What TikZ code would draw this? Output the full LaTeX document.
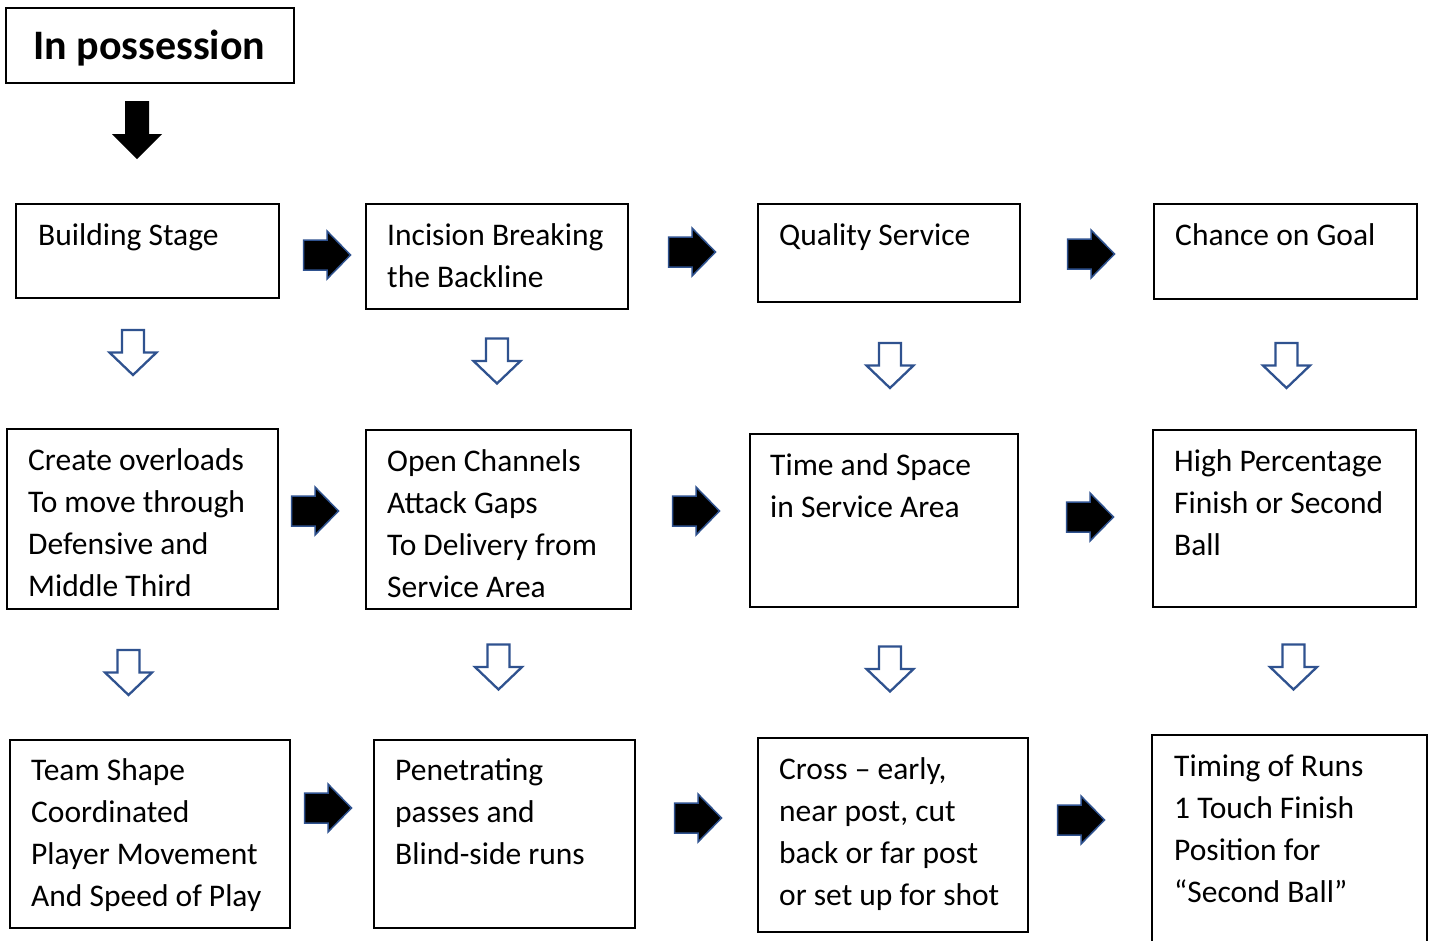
\documentclass[tikz,border=0pt]{standalone}
\usepackage{fontspec}
\setmainfont{Carlito}
\definecolor{arrowblue}{HTML}{2F528F}
\tikzset{
  box/.style={draw=black, line width=1.6pt, inner sep=0pt, fill=none},
  txt/.style={anchor=base west, align=left, inner sep=0pt, font=\fontsize{31.5}{42}\selectfont},
  rarrow/.pic={\fill[black, draw=arrowblue, line width=1.5pt, line join=miter]
     (-23.5,-15) -- (0,-15) -- (0,-24) -- (23.5,0) -- (0,24) -- (0,15) -- (-23.5,15) -- cycle;},
  darrow/.pic={\draw[fill=white, draw=arrowblue, line width=2.3pt, line join=miter]
     (-11,-22.5) -- (11,-22.5) -- (11,0) -- (23.5,0) -- (0,22.5) -- (-23.5,0) -- (-11,0) -- cycle;}
}
\begin{document}
\begin{tikzpicture}[x=1pt,y=-1pt]
\useasboundingbox (0,0) rectangle (1438,940);
\clip (0,0) rectangle (1438,940);
% title
\node[box, minimum width=288pt, minimum height=75pt] (title) at (150,45.5) {};
\node[anchor=base west, inner sep=0pt, font=\fontsize{42}{50}\selectfont\bfseries] (titletext) at (33,59) {In possession};
\fill[black] (125,101) -- (149,101) -- (149,134) -- (162,134) -- (137,159) -- (112,134) -- (125,134) -- cycle;
% boxes
\node[box, minimum width=263pt, minimum height=94pt] (b1) at (147.5,251) {};
\node[box, minimum width=262pt, minimum height=105pt] (b2) at (497,256.5) {};
\node[box, minimum width=262pt, minimum height=98pt] (b3) at (889,253) {};
\node[box, minimum width=263pt, minimum height=95pt] (b4) at (1285.5,251.5) {};
\node[box, minimum width=271pt, minimum height=180pt] (c1) at (142.5,519) {};
\node[box, minimum width=265pt, minimum height=179pt] (c2) at (498.5,519.5) {};
\node[box, minimum width=268pt, minimum height=173pt] (c3) at (884,520.5) {};
\node[box, minimum width=263pt, minimum height=177pt] (c4) at (1284.5,518.5) {};
\node[box, minimum width=280pt, minimum height=188pt] (d1) at (150,834) {};
\node[box, minimum width=261pt, minimum height=188pt] (d2) at (504.5,834) {};
\node[box, minimum width=270pt, minimum height=194pt] (d3) at (893,835) {};
\node[box, minimum width=275pt, minimum height=225pt] (d4) at (1289.5,847.5) {};
% texts (anchor = baseline of the last line)
\node[txt] (tb1) at (38,245) {Building Stage};
\node[txt] (tb2) at (387,287) {Incision Breaking\\the Backline};
\node[txt] (tb3) at (779,245) {Quality Service};
\node[txt] (tb4) at (1175,245) {Chance on Goal};
\node[txt] (tc1) at (28,596) {Create overloads\\To move through\\Defensive and\\Middle Third};
\node[txt] (tc2) at (387,597) {Open Channels\\Attack Gaps\\To Delivery from\\Service Area};
\node[txt] (tc3) at (770,517) {Time and Space\\in Service Area};
\node[txt] (tc4) at (1174,555) {High Percentage\\Finish or Second\\Ball};
\node[txt] (td1) at (31,906) {Team Shape\\Coordinated\\Player Movement\\And Speed of Play};
\node[txt] (td2) at (395,864) {Penetrating\\passes and\\Blind-side runs};
\node[txt] (td3) at (779,905) {Cross – early,\\near post, cut\\back or far post\\or set up for shot};
\node[txt] (td4) at (1174,902) {Timing of Runs\\1 Touch Finish\\Position for\\“Second Ball”};
% right arrows
\pic at (327,255) {rarrow};
\pic at (692,252) {rarrow};
\pic at (1091,254) {rarrow};
\pic at (315,511) {rarrow};
\pic at (696,511) {rarrow};
\pic at (1090,517) {rarrow};
\pic at (328,808) {rarrow};
\pic at (698,818) {rarrow};
\pic at (1081,820) {rarrow};
% down arrows
\pic at (133,352.5) {darrow};
\pic at (497,361) {darrow};
\pic at (890,365.5) {darrow};
\pic at (1286.5,365.5) {darrow};
\pic at (128.5,672.5) {darrow};
\pic at (498.5,667) {darrow};
\pic at (890,669) {darrow};
\pic at (1293.5,667) {darrow};
\end{tikzpicture}
\end{document}
